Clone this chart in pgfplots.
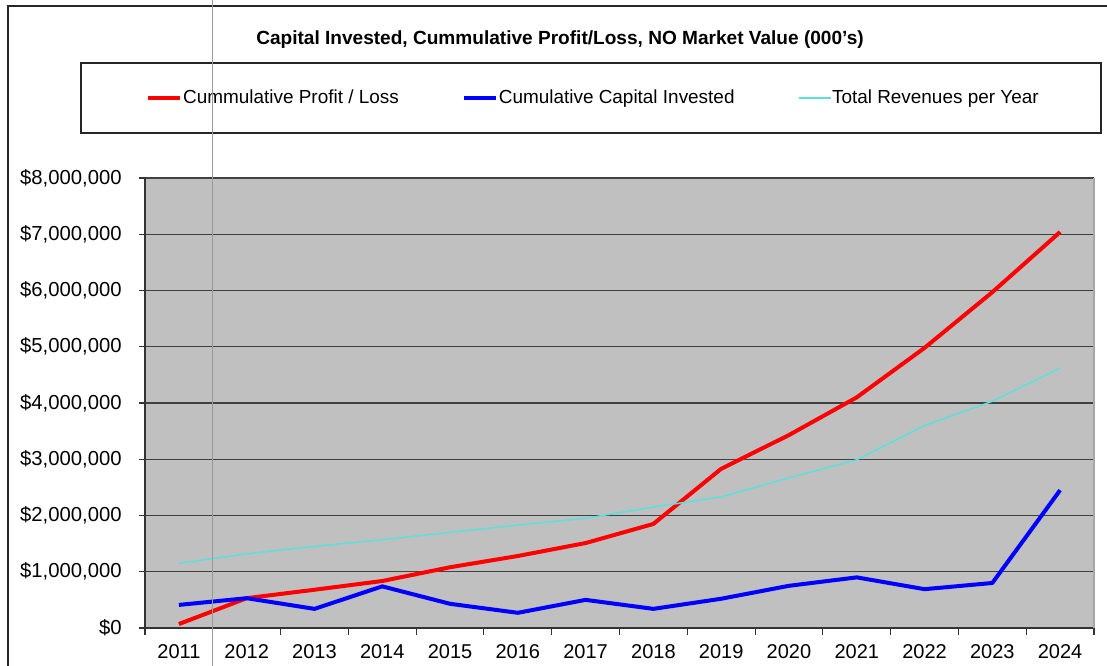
\documentclass[border=0pt]{standalone}
\usepackage{fontspec}
\setmainfont{Liberation Sans}
\usepackage{pgfplots}
\pgfplotsset{compat=1.18}
\definecolor{plotgray}{RGB}{192,192,192}
\definecolor{revcyan}{RGB}{90,225,220}
\begin{document}
\begin{tikzpicture}
\useasboundingbox (0,0) rectangle (830.25pt,499.5pt);
\fill[white] (0,0) rectangle (830.25pt,499.5pt);
% outer chart frame
\draw[black!85, line width=1pt] (6pt,-5pt) rectangle (840pt,495pt);
% title
\node[font=\fontsize{14.3}{16}\selectfont\bfseries] at (420pt,469.5pt)
  {Capital Invested, Cummulative Profit/Loss, NO Market Value (000's)};
% legend frame
\draw[black!85, line width=0.8pt] (60.75pt,399.75pt) rectangle (825.75pt,452.25pt);
\begin{axis}[
  at={(108.75pt,28.5pt)}, anchor=south west,
  scale only axis, width=711.75pt, height=337.5pt,
  xmin=0.5, xmax=14.5, ymin=0, ymax=8000000,
  axis background/.style={fill=plotgray},
  axis x line*=bottom, axis y line*=left,
  axis line style={black!80, line width=0.8pt},
  xtick={1,...,14},
  xticklabels={2011,2012,2013,2014,2015,2016,2017,2018,2019,2020,2021,2022,2023,2024},
  minor xtick={0.5,1.5,...,14.5},
  major x tick style={draw=none},
  minor x tick style={black!80, line width=0.8pt},
  minor tick length=5pt,
  ytick={0,1000000,...,8000000},
  yticklabels={{\$0},{\$1,000,000},{\$2,000,000},{\$3,000,000},{\$4,000,000},{\$5,000,000},{\$6,000,000},{\$7,000,000},{\$8,000,000}},
  scaled y ticks=false,
  major tick length=4.5pt,
  tick align=outside,
  y tick style={black!80, line width=0.8pt},
  ymajorgrids, grid style={black!75, line width=0.8pt},
  /pgf/number format/assume math mode=true,
  x tick label style={font=\fontsize{15}{17}\selectfont, yshift=-4.5pt},
  y tick label style={font=\fontsize{15.2}{17}\selectfont, xshift=-9.5pt},
  legend columns=3,
  legend style={at={(rel axis cs:0.472,1.178)}, anchor=center, draw=none, fill=none,
    font=\fontsize{14.2}{16}\selectfont,
    nodes={inner xsep=0.5pt},
    /tikz/every even column/.append style={column sep=47pt},
    inner sep=0pt},
  legend image code/.code={\draw[#1] (0pt,0pt) -- (24pt,0pt);},
  /tikz/every odd column/.append style={column sep=0pt},
  legend cell align=left,
  clip=false,
]
\addplot[red, line width=3pt, line join=round] coordinates {
 (1,70000) (2,530000) (3,680000) (4,835000) (5,1080000) (6,1280000) (7,1510000)
 (8,1850000) (9,2830000) (10,3430000) (11,4100000) (12,4980000) (13,5970000) (14,7040000)};
\addlegendentry{Cummulative Profit / Loss}
\addplot[blue, line width=3pt, line join=round] coordinates {
 (1,410000) (2,530000) (3,340000) (4,740000) (5,430000) (6,270000) (7,500000)
 (8,340000) (9,520000) (10,750000) (11,900000) (12,690000) (13,800000) (14,2450000)};
\addlegendentry{Cumulative Capital Invested}
\addplot[revcyan, line width=1.1pt, line join=round] coordinates {
 (1,1150000) (2,1320000) (3,1450000) (4,1570000) (5,1700000) (6,1830000) (7,1950000)
 (8,2150000) (9,2330000) (10,2670000) (11,2990000) (12,3600000) (13,4030000) (14,4620000)};
\addlegendentry{Total Revenues per Year}
% right border of plot area
\draw[black!35, line width=0.8pt] (rel axis cs:1,0) -- (rel axis cs:1,1);
\end{axis}
% spreadsheet column line
\draw[black!40, line width=0.75pt] (159pt,0pt) -- (159pt,499.5pt);
\end{tikzpicture}
\end{document}
